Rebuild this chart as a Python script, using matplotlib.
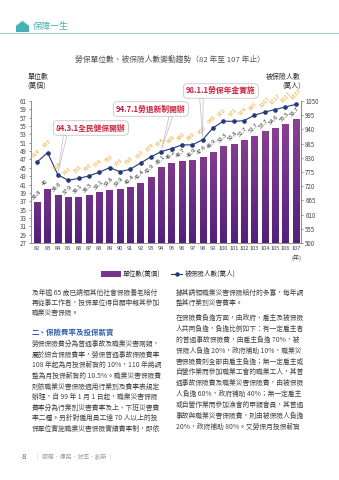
import numpy as np
import matplotlib
matplotlib.use("Agg")
import matplotlib.pyplot as plt
from matplotlib.colors import LinearSegmentedColormap
from matplotlib.patches import Polygon, Rectangle

plt.rcParams['font.family'] = ['Noto Sans CJK TC', 'DejaVu Sans']

years = [str(y) for y in range(82, 108)]
units = [36.8, 40.0, 38.6, 37.9, 38.1, 38.5, 39.1, 39.8, 39.9, 40.4, 41.4, 42.9, 45.1,
         46.2, 46.7, 46.9, 47.6, 48.9, 50.3, 50.8, 51.7, 52.7, 53.7, 54.6, 55.5, 56.7]
unit_labels = ["36.8", "40", "38.6", "37.9", "38.1", "38.5", "39.1", "39.8", "39.9", "40.4",
               "41.4", "42.9", "45.1", "46.2", "46.7", "46.9", "47.6", "48.9", "50.3", "50.8",
               "51.7", "52.7", "53.7", "54.6", "55.5", "56.7"]
insured = [814, 850, 764, 743, 750, 760, 774, 792, 776, 786, 810, 834, 854,
           866, 880, 880, 900, 946, 972, 971, 974, 995, 1007, 1017, 1027, 1037]
events = [("84.3.1全民健保開辦", 2), ("94.7.1勞退新制開辦", 12), ("98.1.1勞保年金實施", 16)]

left_ticks = list(range(27, 62, 2))
right_ticks = list(range(500, 1051, 55))

W, H = 339, 480
fig = plt.figure(figsize=(W / 100, H / 100), dpi=100)
fig.patch.set_facecolor("white")

def fx(px):
    return px / W

def fy(py):
    return 1 - py / H

# header
teal = "#49b0b4"
fig.add_artist(plt.Line2D([0, 1], [fy(32.5), fy(32.5)], color="#9fd4d4", lw=0.8))
fig.add_artist(Polygon([[fx(16), fy(32)], [fx(16), fy(25)], [fx(22.5), fy(20)],
                        [fx(29), fy(25)], [fx(29), fy(32)]], closed=True,
                       fc=teal, ec="none", transform=fig.transFigure))
fig.add_artist(Polygon([[fx(15), fy(26)], [fx(22.5), fy(20.5)], [fx(30), fy(26)]],
                       closed=False, fill=False, ec="white", lw=0.6, transform=fig.transFigure))
fig.text(fx(33), fy(26), "保障一生", fontsize=6.5, color=teal, va="center", ha="left")

fig.text(fx(170), fy(60), "勞保單位數、被保險人數變動趨勢（82 年至 107 年止）",
         fontsize=5.6, color="#555555", ha="center", va="center")

# chart
ax = fig.add_axes([fx(31), fy(243), fx(301) - fx(31), (243 - 101) / H])
ax2 = ax.twinx()
x = np.arange(len(years))

cmap = LinearSegmentedColormap.from_list("purp", ["#52207a", "#8a3f93", "#b463a9"])
grad = np.linspace(0, 1, 128).reshape(-1, 1)
bars = ax.bar(x, units, width=0.62, color="none", edgecolor="none", zorder=2)
for b in bars:
    x0, w, h = b.get_x(), b.get_width(), b.get_height()
    im = ax.imshow(grad, extent=(x0, x0 + w, 27, 27 + h), origin="lower", cmap=cmap,
                   aspect="auto", zorder=2)
    im.set_clip_path(b)
ax.set_aspect("auto")
ax.set_xlim(-0.6, len(years) - 0.5)
ax.set_ylim(27, 61)
ax2.set_ylim(500, 1050)

for xi, v, lab in zip(x, units, unit_labels):
    ax.text(xi - 0.3, v + 0.4, lab, rotation=45, fontsize=4.2, color="#333333",
            ha="left", va="bottom", zorder=4, rotation_mode="anchor")

ax2.plot(x, insured, color="#233a7a", lw=0.8, marker="o", ms=2.3, zorder=3)
for xi, v in zip(x, insured):
    ax2.text(xi - 0.25, v + 14, str(v), rotation=45, fontsize=4.2, color="#f0a53a",
             ha="left", va="bottom", zorder=4, rotation_mode="anchor")

box_pos = {2: (56, 128, 0.14), 12: (116, 109, 0.8), 16: (186, 91, 0.22)}
for txt, i in events:
    bx, by, rp = box_pos[i]
    ax2.annotate(txt, xy=(x[i], insured[i] + 6), xytext=(fx(bx), fy(by)),
                 textcoords="figure fraction",
                 fontsize=5.6, color="#cc1f3c", fontweight="bold", ha="left", va="center",
                 bbox=dict(boxstyle="round,pad=0.35,rounding_size=0.5", fc="white",
                           ec="#bbbbbb", lw=0.5),
                 arrowprops=dict(arrowstyle="wedge,tail_width=0.45,shrink_factor=0.5",
                                 fc="white", ec="#bbbbbb", lw=0.5, relpos=(rp, 0.0),
                                 shrinkA=0, shrinkB=1),
                 zorder=5, annotation_clip=False)

ax.set_xticks(x)
ax.set_xticklabels(years)
ax.set_yticks(left_ticks)
ax2.set_yticks(right_ticks)
for a in (ax, ax2):
    a.tick_params(labelsize=4.4, colors="#444444", length=1.5, width=0.4, pad=1.5)
    a.spines["top"].set_visible(False)
    for s in ("left", "right", "bottom"):
        a.spines[s].set_color("#888888")
        a.spines[s].set_linewidth(0.5)
ax.tick_params(axis="x", length=0, pad=2.5, labelsize=4.1)

fig.text(fx(28), fy(77), "單位數", fontsize=5, color="#333333", ha="left", va="center")
fig.text(fx(27), fy(86), "(萬個)", fontsize=5, color="#333333", ha="left", va="center")
fig.text(fx(301), fy(77), "被保險人數", fontsize=5, color="#333333", ha="right", va="center")
fig.text(fx(301), fy(86), "(萬人)", fontsize=5, color="#333333", ha="right", va="center")
fig.text(fx(296), fy(258), "(年)", fontsize=4.3, color="#444444", ha="center", va="center")

# legend
fig.add_artist(Rectangle((fx(101), fy(277)), fx(20), 6 / H, fc="#7a3490", ec="none",
                         transform=fig.transFigure))
fig.text(fx(123), fy(274), "單位數(萬個)", fontsize=4.8, color="#333333", va="center")
fig.add_artist(plt.Line2D([fx(171), fx(182)], [fy(274), fy(274)], color="#233a7a", lw=0.8))
fig.add_artist(plt.Line2D([fx(176.5)], [fy(274)], color="#233a7a", marker="o", ms=2.2))
fig.text(fx(185), fy(274), "被保險人數(萬人)", fontsize=4.8, color="#333333", va="center")

# body text
body = "#444444"
left_lines = ["及年逾 65 歲已請領其他社會保險養老給付",
              "再從事工作者，投保單位得自願申報其參加",
              "職業災害保險。"]
left_y = [293, 303, 313]
para2 = ["勞保保險費分為普通事故及職業災害兩類，",
         "屬於綜合保險費率，勞保普通事故保險費率",
         "108 年起為月投保薪資的 10%，110 年將調",
         "整為月投保薪資的 10.5%。職業災害保險費",
         "則依職業災害保險適用行業別及費率表規定",
         "辦理，自 99 年 1 月 1 日起，職業災害保險",
         "費率分為行業別災害費率及上、下班災害費",
         "率二種。另針對僱用員工達 70 人以上的投",
         "保單位實施職業災害保險實績費率制，即依"]
for t, yy in zip(left_lines, left_y):
    fig.text(fx(32), fy(yy), t, fontsize=4.9, color=body, va="center")
fig.text(fx(32), fy(332), "二、保險費率及投保薪資", fontsize=5.4, color="#2f5fae",
         fontweight="bold", va="center")
for k, t in enumerate(para2):
    fig.text(fx(32), fy(344 + k * 10.6), t, fontsize=4.9, color=body, va="center")

right_lines = ["據其請領職業災害保險給付的多寡，每年調",
               "整其行業別災害費率。"]
para3 = ["在保險費負擔方面，由政府、雇主及被保險",
         "人共同負擔，負擔比例如下：有一定雇主者",
         "的普通事故保險費，由雇主負擔 70%，被",
         "保險人負擔 20%，政府補助 10%，職業災",
         "害保險費則全部由雇主負擔；無一定雇主或",
         "自營作業而參加職業工會的職業工人，其普",
         "通事故保險費及職業災害保險費，由被保險",
         "人負擔 60%，政府補助 40%；無一定雇主",
         "或自營作業而參加漁會的甲類會員，其普通",
         "事故與職業災害保險費，則由被保險人負擔",
         "20%，政府補助 80%。又勞保月投保薪資"]
for k, t in enumerate(right_lines):
    fig.text(fx(176), fy(293 + k * 10), t, fontsize=4.9, color=body, va="center")
for k, t in enumerate(para3):
    fig.text(fx(176), fy(318 + k * 10.85), t, fontsize=4.9, color=body, va="center")

fig.text(fx(22), fy(457), "8", fontsize=5.5, color="#555555", va="center")
fig.text(fx(35), fy(457), "｜ 服務．便民．效率．創新 ｜", fontsize=4.2, color="#999999",
         va="center")

fig.savefig("out.png", dpi=100, facecolor="white")
